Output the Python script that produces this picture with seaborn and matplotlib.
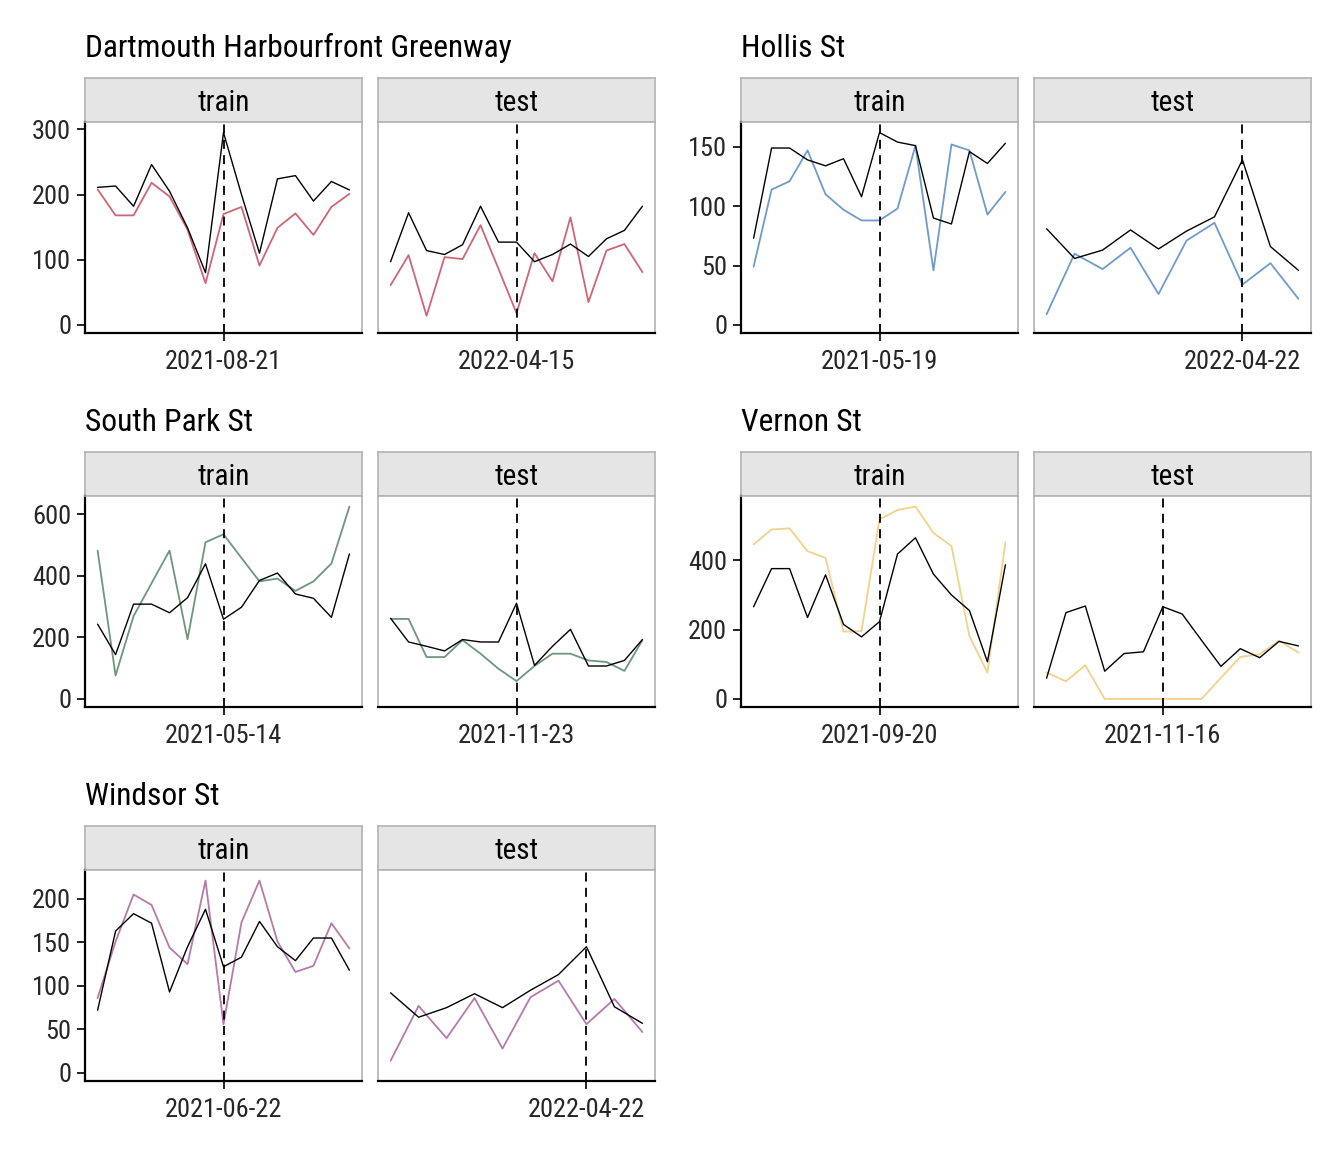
import numpy as np
import pandas as pd
import matplotlib.pyplot as plt
from matplotlib import font_manager
import seaborn as sns

sites = ["Dartmouth Harbourfront Greenway", "Hollis St", "South Park St",
         "Vernon St", "Windsor St"]
site_colors = ["#CC6677", "#6F9ACB", "#6E967D", "#F0D28C", "#B47AAC"]

# observed counts (coloured) and model fit (black), train and test windows
dart_train_obs = [208, 168, 168, 218, 197, 146, 64, 170, 181, 91, 149, 171, 138, 181, 201]
dart_train_fit = [211, 213, 182, 246, 205, 149, 80, 295, 200, 110, 224, 229, 190, 220, 207]
dart_test_obs = [61, 107, 14, 104, 101, 153, 86, 18, 110, 67, 165, 35, 114, 124, 81]
dart_test_fit = [97, 172, 114, 108, 123, 182, 127, 127, 97, 108, 124, 105, 132, 145, 182]

hollis_train_obs = [49, 114, 121, 147, 110, 97, 88, 88, 98, 151, 46, 152, 147, 93, 112]
hollis_train_fit = [73, 149, 149, 139, 134, 140, 108, 162, 154, 151, 90, 85, 146, 136, 153]
hollis_test_obs = [9, 60, 47, 65, 26, 71, 86, 34, 52, 22]
hollis_test_fit = [81, 56, 63, 80, 64, 79, 91, 139, 66, 46]

spark_train_obs = [482, 76, 269, 376, 482, 194, 509, 535, 458, 382, 391, 351, 382, 440, 625]
spark_train_fit = [243, 144, 308, 308, 280, 329, 439, 259, 298, 385, 409, 341, 327, 265, 471]
spark_test_obs = [260, 260, 136, 136, 191, 147, 98, 58, 107, 147, 147, 125, 120, 91, 191]
spark_test_fit = [262, 185, 171, 156, 193, 185, 185, 311, 109, 171, 226, 107, 107, 125, 193]

vernon_train_obs = [446, 489, 492, 426, 407, 194, 196, 518, 545, 555, 479, 441, 181, 76, 452]
vernon_train_fit = [266, 376, 376, 235, 358, 215, 179, 223, 418, 465, 360, 300, 255, 107, 387]
vernon_test_obs = [76, 51, 97, 0, 0, 0, 0, 0, 0, 61, 121, 129, 168, 134]
vernon_test_fit = [60, 249, 268, 80, 131, 136, 266, 245, 169, 94, 145, 119, 166, 153]

windsor_train_obs = [86, 151, 205, 193, 144, 125, 221, 56, 173, 221, 151, 116, 123, 172, 143]
windsor_train_fit = [72, 163, 183, 172, 93, 145, 188, 122, 133, 174, 145, 129, 155, 155, 118]
windsor_test_obs = [14, 77, 40, 86, 28, 87, 106, 56, 85, 47]
windsor_test_fit = [92, 64, 75, 91, 75, 95, 113, 145, 76, 57]

# marked date (dashed line) per panel: label and position in the series
mark_labels = [["2021-08-21", "2022-04-15"], ["2021-05-19", "2022-04-22"],
               ["2021-05-14", "2021-11-23"], ["2021-09-20", "2021-11-16"],
               ["2021-06-22", "2022-04-22"]]
mark_pos = [[7, 7], [7, 7], [7, 7], [7, 6], [7, 7]]

obs = [[dart_train_obs, dart_test_obs], [hollis_train_obs, hollis_test_obs],
       [spark_train_obs, spark_test_obs], [vernon_train_obs, vernon_test_obs],
       [windsor_train_obs, windsor_test_obs]]
fit = [[dart_train_fit, dart_test_fit], [hollis_train_fit, hollis_test_fit],
       [spark_train_fit, spark_test_fit], [vernon_train_fit, vernon_test_fit],
       [windsor_train_fit, windsor_test_fit]]
y_ticks = [[0, 100, 200, 300], [0, 50, 100, 150], [0, 200, 400, 600],
           [0, 200, 400], [0, 50, 100, 150, 200]]
splits = ["train", "test"]

sns.set_theme(style="white")
installed = {f.name for f in font_manager.fontManager.ttflist}
narrow = [f for f in ["Roboto Condensed", "Liberation Sans Narrow"] if f in installed]
if narrow:
    plt.rcParams['font.family'] = [narrow[0], 'DejaVu Sans']
    fs_title, fs_strip, fs_tick = 22.7, 21, 19
else:
    # no condensed face: shrink Roboto so text widths stay close
    plt.rcParams['font.family'] = ['Roboto', 'DejaVu Sans']
    fs_title, fs_strip, fs_tick = 20, 19, 17

W, H = 1344, 1152
fig = plt.figure(figsize=(W / 100, H / 100), dpi=100)

def box(x, y, w, h):  # pixel box from top-left -> figure fraction
    return [x / W, 1 - (y + h) / H, w / W, h / H]

grey = "#b3b3b3"
pw, ph, sh = 277, 211, 44

for s, site in enumerate(sites):
    gx = [85, 741][s % 2]
    gy = [78, 452, 826][s // 2]
    fig.text(gx / W, 1 - (gy - 21) / H, site, fontsize=fs_title, ha="left",
             va="baseline", color="black")
    ymax = max(max(obs[s][0]), max(obs[s][1]), max(fit[s][0]), max(fit[s][1]))
    for k in range(2):
        px = gx + k * 293
        # strip
        sax = fig.add_axes(box(px, gy, pw, sh))
        sax.set_facecolor("#e5e5e5")
        sax.set_xticks([]); sax.set_yticks([])
        for sp in sax.spines.values():
            sp.set_color(grey); sp.set_linewidth(1.2)
        sax.text(0.5, 0.44, splits[k], transform=sax.transAxes, ha="center",
                 va="center", fontsize=fs_strip, color="black")

        ax = fig.add_axes(box(px, gy + sh, pw, ph))
        n = len(obs[s][k])
        df = pd.DataFrame({"t": np.arange(n), "obs": obs[s][k], "fit": fit[s][k]})
        sns.lineplot(data=df, x="t", y="obs", ax=ax, color=site_colors[s], lw=1.3)
        sns.lineplot(data=df, x="t", y="fit", ax=ax, color="black", lw=1.0)
        m = mark_pos[s][k]
        ax.axvline(m, color="black", lw=1.3, ls=(0, (5, 3.5)))
        ax.set_xlim(-0.05 * (n - 1), (n - 1) * 1.05)
        ax.set_ylim(-0.042 * ymax, 1.055 * ymax)
        ax.set_xticks([m])
        ax.set_xticklabels([mark_labels[s][k]])
        ax.set_xlabel(""); ax.set_ylabel("")
        ax.tick_params(axis="x", length=6, width=1.2, color="black", pad=6,
                       labelsize=fs_tick, bottom=True)
        if k == 0:
            ax.set_yticks(y_ticks[s])
            ax.tick_params(axis="y", length=6, width=1.2, color="black", pad=4,
                           labelsize=fs_tick, left=True)
        else:
            ax.set_yticks([])
        for sp in ["top", "right"]:
            ax.spines[sp].set_color(grey); ax.spines[sp].set_linewidth(1.2)
        ax.spines["bottom"].set_color("black"); ax.spines["bottom"].set_linewidth(1.6)
        if k == 0:
            ax.spines["left"].set_color("black"); ax.spines["left"].set_linewidth(1.6)
        else:
            ax.spines["left"].set_color(grey); ax.spines["left"].set_linewidth(1.2)
        ax.grid(False)

fig.savefig("out.png", dpi=100)
